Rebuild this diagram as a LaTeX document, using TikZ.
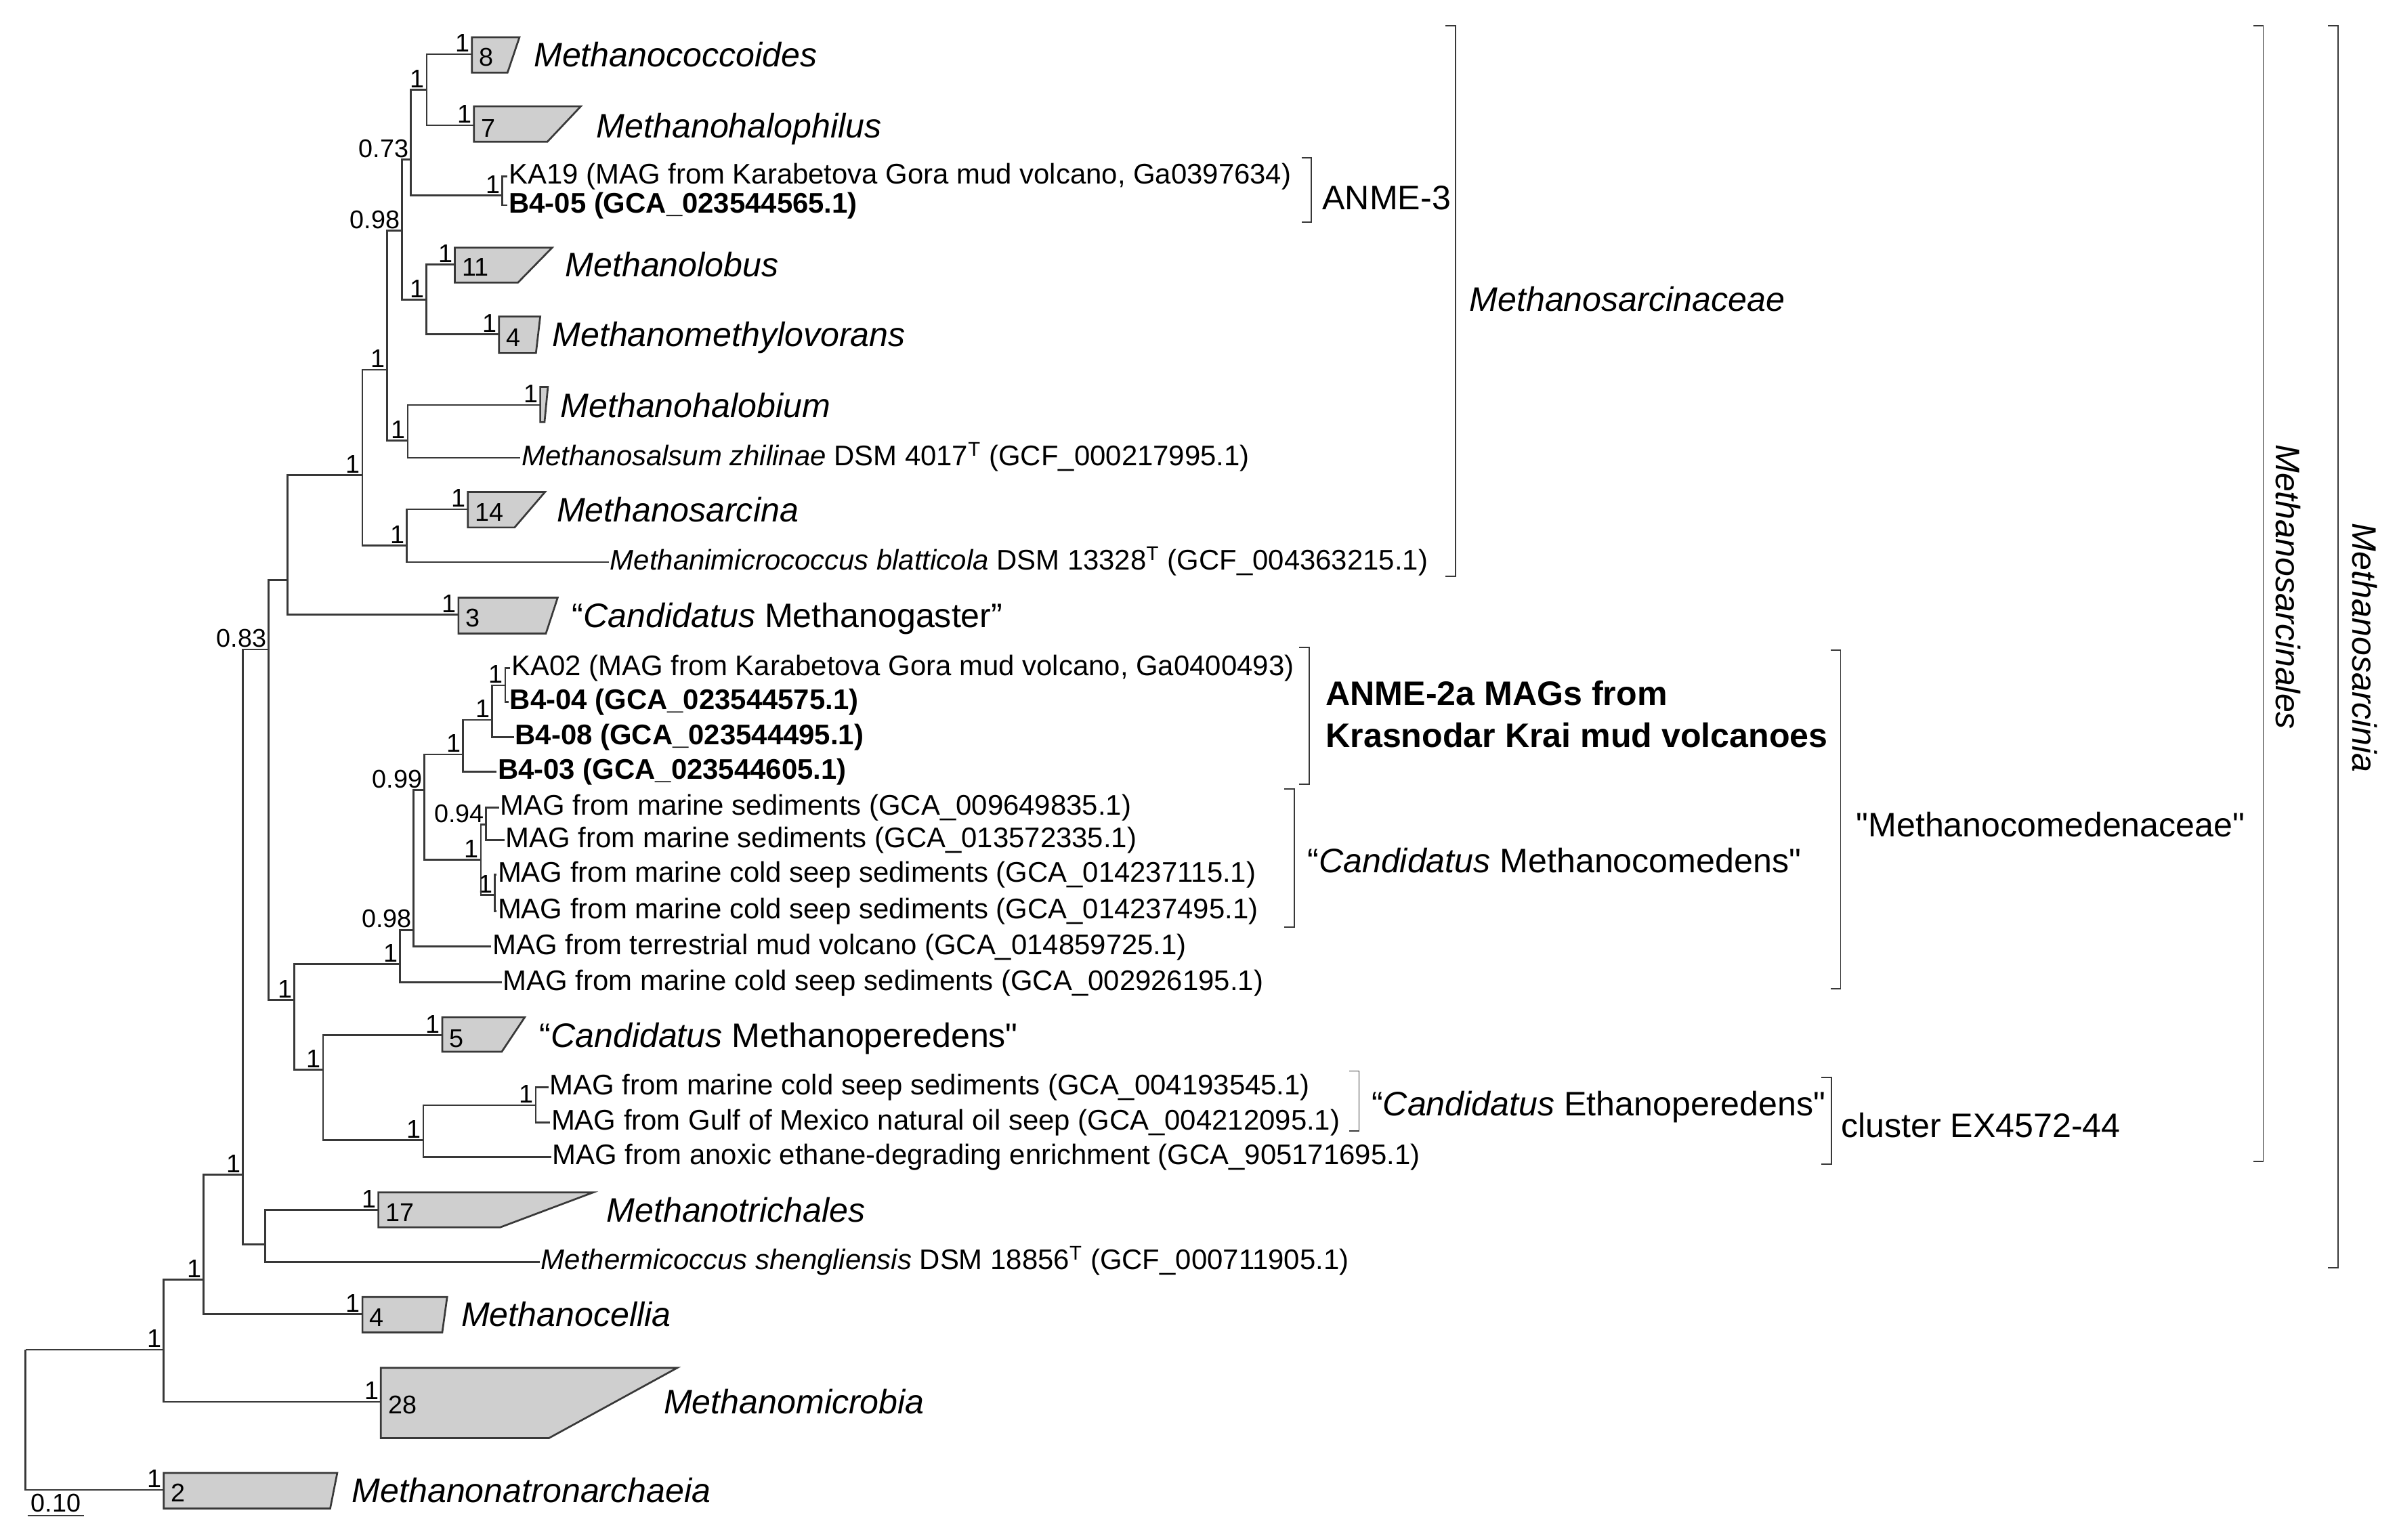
\documentclass[tikz,border=0pt]{standalone}
\usepackage{fontspec}
\setmainfont{Liberation Sans}
\newcommand{\sq}{\XeTeXglyph\XeTeXcharglyph"22\relax}
\tikzset{
  br/.style={line width=0.85pt, draw=black!78},
  clade/.style={line width=0.85pt, draw=black!78, fill=black!19},
  brk/.style={line width=0.6pt, draw=black!78},
  sup/.style={font=\fontsize{11.9}{12}\selectfont, inner sep=0.8pt, anchor=south east},
  num/.style={font=\fontsize{11.9}{12}\selectfont, inner sep=0pt, anchor=base west},
  leaf/.style={font=\fontsize{13.2}{14}\selectfont, inner sep=0pt, anchor=base west},
  grp/.style={font=\fontsize{15.8}{17}\selectfont, inner sep=0pt, anchor=base west},
  gen/.style={font=\fontsize{15.8}{17}\selectfont\itshape, inner sep=0pt, anchor=base west},
  rot/.style={font=\fontsize{15.8}{17}\selectfont\itshape, inner sep=0pt, anchor=center, rotate=-90}
}
\newcommand{\mkleaf}[4]{\coordinate (#1) at (#2,#3); \node[leaf] (#1t) at (#2+0.6,#3+5) {#4};}
\newcommand{\mkint}[4]{\coordinate (#1) at (#2,#3); \node[sup] (#1s) at (#1) {#4};}
\newcommand{\mkbox}[8]{%
  \filldraw[clade] (#2,#3) -- (#5,#3) -- (#6,#4) -- (#2,#4) -- cycle;
  \coordinate (#1) at (#2,#7);
  \node[num] (#1n) at (#2+4.5,#7+7.8) {#8};
  \node[sup] (#1s) at (#1) {1};}
\newcommand{\mkbrk}[4]{\draw[brk] (#2-6.5,#3) -- (#2,#3) -- (#2,#4) -- (#2-6.5,#4);
  \coordinate (#1) at (#2,#3);}
\begin{document}
\begin{tikzpicture}[x=0.025cm, y=-0.025cm]
\fill[white] (0,0) rectangle (1568,1007.5);
\path[use as bounding box] (0,0) rectangle (1568,1007.5);

% ---------- internal nodes ----------
\coordinate (r) at (16.7,883);
\mkint{n1}{107.1}{883}{1}
\mkint{n2}{133.1}{837.3}{1}
\mkint{n3}{158.9}{768.4}{1}
\mkint{n4}{175.6}{424.9}{0.83}
\coordinate (n5) at (188.1,379.5);
\mkint{n6}{237}{310.8}{1}
\mkint{n7}{253.3}{241.9}{1}
\mkint{n8}{263}{151}{0.98}
\mkint{n9}{268.6}{104.4}{0.73}
\mkint{n10}{279.1}{58.8}{1}
\mkint{n11}{328.6}{127.7}{1}
\mkint{n12}{278.8}{196.2}{1}
\mkint{n13}{266.7}{288.2}{1}
\mkint{n14}{266}{356.9}{1}
\mkint{n15}{192.4}{654.1}{1}
\mkint{n16}{261.5}{630.6}{1}
\mkint{n17}{270.6}{608.5}{0.98}
\mkint{n18}{277.6}{516.9}{0.99}
\mkint{n19}{302.9}{493.6}{1}
\mkint{n20}{321.9}{471}{1}
\mkint{n21}{330.5}{448.4}{1}
\mkint{n22}{314.6}{562.6}{1}
\mkint{n23}{318}{539.5}{0.94}
\mkint{n24}{323.7}{585.4}{1}
\mkint{n25}{211.3}{699.9}{1}
\mkint{n26}{276.9}{745.8}{1}
\mkint{n27}{350.4}{723.1}{1}
\coordinate (n28) at (173.4,814.2);

% ---------- leaves ----------
\mkleaf{lka19}{332}{115.3}{KA19 (MAG from Karabetova Gora mud volcano, Ga0397634)}
\mkleaf{lb405}{332}{134.3}{\textbf{B4-05 (GCA\_023544565.1)}}
\mkleaf{lsalsum}{340.4}{299.5}{\textit{Methanosalsum zhilinae} DSM 4017\textsuperscript{T} (GCF\_000217995.1)}
\mkleaf{lmimi}{398.3}{367.7}{\textit{Methanimicrococcus blatticola} DSM 13328\textsuperscript{T} (GCF\_004363215.1)}
\mkleaf{lka02}{333.8}{437.1}{KA02 (MAG from Karabetova Gora mud volcano, Ga0400493)}
\mkleaf{lb404}{332.7}{459.3}{\textbf{B4-04 (GCA\_023544575.1)}}
\mkleaf{lb408}{336.1}{482.3}{\textbf{B4-08 (GCA\_023544495.1)}}
\mkleaf{lb403}{324.8}{504.9}{\textbf{B4-03 (GCA\_023544605.1)}}
\mkleaf{lm9649}{326.4}{528.2}{MAG from marine sediments (GCA\_009649835.1)}
\mkleaf{lm13572}{330}{549.7}{MAG from marine sediments (GCA\_013572335.1)}
\mkleaf{lm14237a}{324.8}{572.3}{MAG from marine cold seep sediments (GCA\_014237115.1)}
\mkleaf{lm14237b}{324.8}{596}{MAG from marine cold seep sediments (GCA\_014237495.1)}
\mkleaf{lterr}{321.4}{619.3}{MAG from terrestrial mud volcano (GCA\_014859725.1)}
\mkleaf{lm2926}{328.2}{642.8}{MAG from marine cold seep sediments (GCA\_002926195.1)}
\mkleaf{lm4193}{358.7}{711.2}{MAG from marine cold seep sediments (GCA\_004193545.1)}
\mkleaf{lgulf}{359.8}{734.4}{MAG from Gulf of Mexico natural oil seep (GCA\_004212095.1)}
\mkleaf{lanox}{360.5}{757}{MAG from anoxic ethane-degrading enrichment (GCA\_905171695.1)}
\mkleaf{lmether}{353.1}{825.5}{\textit{Methermicoccus shengliensis} DSM 18856\textsuperscript{T} (GCF\_000711905.1)}

% ---------- collapsed clades ----------
\mkbox{b8}{308.7}{24.4}{47.5}{339.8}{332}{35.5}{8}
\mkbox{b7}{310}{69.6}{92.7}{379.9}{358.1}{82}{7}
\mkbox{b11}{297.5}{162}{184.9}{361.2}{338.8}{172.9}{11}
\mkbox{b4a}{326.4}{207}{231}{353.4}{350.6}{218.8}{4}
\mkbox{bhal}{353.4}{253.2}{276.2}{358.4}{356.2}{265}{}
\mkbox{b14}{306}{321.9}{345.1}{356.5}{336.6}{333.2}{14}
\mkbox{b3}{299.9}{391}{414.5}{364.8}{357.1}{402.1}{3}
\mkbox{b5}{289.3}{665.5}{688.1}{343.3}{328.2}{677.3}{5}
\mkbox{b17}{247.5}{780.1}{803}{388.1}{327.1}{791.4}{17}
\mkbox{b4b}{237.1}{848.6}{871.7}{292.5}{289.3}{859.9}{4}
\mkbox{b28}{249.1}{894.9}{940.8}{443}{359.2}{917.1}{28}
\mkbox{b2}{107.1}{963.7}{986.9}{220.6}{216}{974.8}{2}

% ---------- branches ----------
\foreach \a/\b in {r/n1, r/b2, n1/n2, n1/b28, n2/n3, n2/b4b, n3/n4, n3/n28,
  n4/n5, n4/n15, n5/n6, n5/b3, n6/n7, n6/n14, n7/n8, n7/n13, n8/n9, n8/n12,
  n9/n10, n9/n11, n10/b8, n10/b7, n11/lka19, n11/lb405, n12/b11, n12/b4a,
  n13/bhal, n13/lsalsum, n14/b14, n14/lmimi, n15/n16, n15/n25, n16/n17, n16/lm2926,
  n17/n18, n17/lterr, n18/n19, n18/n22, n19/n20, n19/lb403, n20/n21, n20/lb408,
  n21/lka02, n21/lb404, n22/n23, n22/n24, n23/lm9649, n23/lm13572,
  n24/lm14237a, n24/lm14237b, n25/b5, n25/n26, n26/n27, n26/lanox,
  n27/lm4193, n27/lgulf, n28/b17, n28/lmether}
  {\draw[br] (\a) |- (\b);}

\node[gen] (g8) at (349,43.5) {Methanococcoides};
\node[gen] (g7) at (390,90) {Methanohalophilus};
\node[gen] (g11) at (369.5,180.9) {Methanolobus};
\node[gen] (g4a) at (361,226.8) {Methanomethylovorans};
\node[gen] (ghal) at (366.4,273) {Methanohalobium};
\node[gen] (g14) at (364,341.2) {Methanosarcina};
\node[grp] (g3) at (374,410.5) {“\textit{Candidatus} Methanogaster”};
\node[grp] (g5) at (352.6,685.3) {“\textit{Candidatus} Methanoperedens\sq};
\node[gen] (g17) at (396.5,799.4) {Methanotrichales};
\node[gen] (g4b) at (301.5,867.9) {Methanocellia};
\node[gen] (g28) at (434,925.1) {Methanomicrobia};
\node[gen] (g2) at (230,982.8) {Methanonatronarchaeia};

% ---------- scale bar ----------
\coordinate (sb1) at (18,991.6); \coordinate (sb2) at (55,991.6);
\draw[br] (sb1) -- (sb2);
\node[num, anchor=base] (sbt) at (36.5,989) {0.10};

% ---------- brackets ----------
\mkbrk{k1}{857.9}{103.2}{145.5}
\node[grp] (k1t) at (864.8,137) {ANME-3};
\mkbrk{k2}{952}{17}{377}
\node[gen] (k2t) at (961,203.5) {Methanosarcinaceae};
\mkbrk{k3}{856.5}{423.5}{513}
\node[grp, font=\fontsize{15.8}{17}\selectfont\bfseries] (k3a) at (867,461.6) {ANME-2a MAGs from};
\node[grp, font=\fontsize{15.8}{17}\selectfont\bfseries] (k3b) at (867,489) {Krasnodar Krai mud volcanoes};
\mkbrk{k4}{846.6}{516}{606.5}
\node[grp] (k4t) at (855,571) {“\textit{Candidatus} Methanocomedens\sq};
\mkbrk{k5}{1204}{425.5}{647}
\node[grp] (k5t) at (1214,547.6) {\sq Methanocomedenaceae\sq};
\mkbrk{k6}{889}{700.7}{740}
\node[grp] (k6t) at (897,730) {“\textit{Candidatus} Ethanoperedens\sq};
\mkbrk{k7}{1198}{705}{761.6}
\node[grp] (k7t) at (1204,744.3) {cluster EX4572-44};
\mkbrk{k8}{1480.5}{17}{760}
\node[rot] (k8t) at (1497,384) {Methanosarcinales};
\mkbrk{k9}{1529.5}{17}{829.5}
\node[rot] (k9t) at (1547,424) {Methanosarcinia};
\end{tikzpicture}
\end{document}
